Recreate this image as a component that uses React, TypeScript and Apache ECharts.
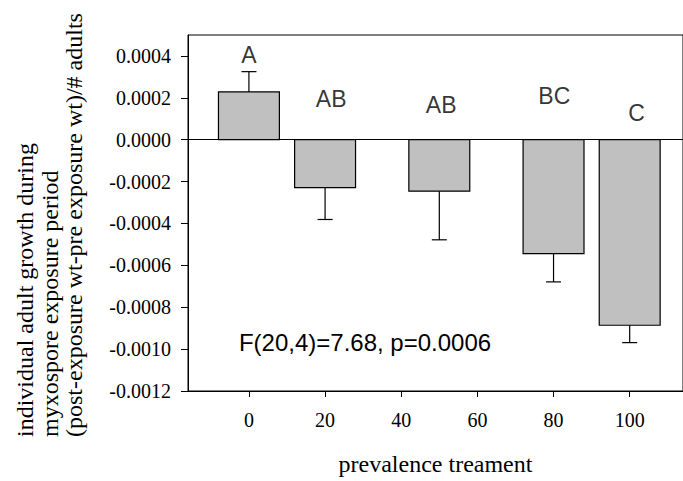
import React, { useEffect, useRef } from "react";
import * as echarts from "echarts";

// Data
const treatments = [0, 20, 50, 80, 100];
const means = [0.000228, -0.000229, -0.000246, -0.000544, -0.000886];
const errors = [0.000097, 0.000152, 0.000232, 0.000135, 0.000083];
const groupLetters = ["A", "AB", "AB", "BC", "C"];
const letterX = [0, 21.6, 50.5, 80.2, 101.8];
const letterY = [0.000405, 0.000196, 0.000168, 0.000211, 0.000127];
const xTicks = [0, 20, 40, 60, 80, 100];
const yTicks = [-0.0012, -0.001, -0.0008, -0.0006, -0.0004, -0.0002, 0, 0.0002, 0.0004];
const statText = "F(20,4)=7.68, p=0.0006";
const yTitleLines = [
  "individual adult growth during",
  "myxospore exposure period",
  "(post-exposure wt-pre exposure wt)/# adults",
];
const xTitle = "prevalence treament";

const SERIF = '"Liberation Serif", "Times New Roman", serif';
const SANS = '"Liberation Sans", Arial, sans-serif';

export default function App() {
  const ref = useRef<HTMLDivElement>(null);

  useEffect(() => {
    if (!ref.current) return;
    const chart = echarts.init(ref.current, null, { renderer: "svg" });
    const barHalf = 8;

    const option: any = {
      animation: false,
      backgroundColor: "#fff",
      grid: {
        left: 188,
        top: 35,
        width: 496,
        height: 362,
        show: true,
        borderColor: "#000",
        borderWidth: 1,
        backgroundColor: "transparent",
      },
      xAxis: {
        type: "value",
        min: -16,
        max: 114,
        name: xTitle,
        nameLocation: "middle",
        nameGap: 73,
        nameTextStyle: {
          fontFamily: SERIF,
          fontSize: 24,
          color: "#000",
          verticalAlign: "middle",
        },
        axisLine: { show: true, onZero: false, lineStyle: { color: "#000", width: 1 } },
        axisTick: {
          show: true,
          length: 6,
          customValues: xTicks,
          lineStyle: { color: "#000", width: 1 },
        },
        axisLabel: {
          customValues: xTicks,
          margin: 19,
          fontFamily: SERIF,
          fontSize: 20,
          color: "#000",
        },
        splitLine: { show: false },
      },
      yAxis: {
        type: "value",
        min: -0.0012,
        max: 0.0005,
        axisLine: { show: true, onZero: false, lineStyle: { color: "#000", width: 1 } },
        axisTick: {
          show: true,
          length: 7,
          customValues: yTicks,
          lineStyle: { color: "#000", width: 1 },
        },
        axisLabel: {
          customValues: yTicks,
          margin: 17,
          fontFamily: SERIF,
          fontSize: 20,
          color: "#000",
          formatter: (v: number) => (Math.abs(v) < 1e-12 ? "0.0000" : v.toFixed(4)),
        },
        splitLine: { show: false },
      },
      series: [
        {
          type: "custom",
          data: treatments.map((t, i) => [t, means[i], errors[i]]),
          renderItem: (params: any, api: any) => {
            const x = api.value(0);
            const m = api.value(1);
            const e = api.value(2);
            const p0 = api.coord([x - barHalf, 0]);
            const p1 = api.coord([x + barHalf, m]);
            const base = api.coord([x, m]);
            const tip = api.coord([x, m + Math.sign(m) * e]);
            const capHalf = 7.5;
            return {
              type: "group",
              children: [
                {
                  type: "rect",
                  shape: {
                    x: p0[0],
                    y: Math.min(p0[1], p1[1]),
                    width: p1[0] - p0[0],
                    height: Math.abs(p1[1] - p0[1]),
                  },
                  style: { fill: "#c0c0c0", stroke: "#000", lineWidth: 1.2 },
                },
                {
                  type: "line",
                  shape: { x1: base[0], y1: base[1], x2: tip[0], y2: tip[1] },
                  style: { stroke: "#000", lineWidth: 1.2 },
                },
                {
                  type: "line",
                  shape: { x1: tip[0] - capHalf, y1: tip[1], x2: tip[0] + capHalf, y2: tip[1] },
                  style: { stroke: "#000", lineWidth: 1.2 },
                },
              ],
            };
          },
          markLine: {
            silent: true,
            symbol: "none",
            label: { show: false },
            lineStyle: { color: "#000", width: 1, type: "solid" },
            data: [{ yAxis: 0 }],
          },
          z: 2,
        },
        {
          type: "scatter",
          data: letterX.map((x, i) => [x, letterY[i], groupLetters[i]]),
          symbolSize: 1,
          itemStyle: { color: "rgba(0,0,0,0)" },
          label: {
            show: true,
            position: "inside",
            formatter: (p: any) => p.value[2],
            fontFamily: SANS,
            fontSize: 23,
            color: "#000",
          },
          z: 3,
        },
      ],
      graphic: [
        ...yTitleLines.map((line, i) => ({
          type: "text",
          x: [25, 50, 74][i],
          y: 437,
          rotation: Math.PI / 2,
          style: {
            text: line,
            font: `24px ${SERIF}`,
            fill: "#000",
            align: "left",
            verticalAlign: "middle",
          },
        })),
        {
          type: "text",
          x: 365,
          y: 342,
          style: {
            text: statText,
            font: `24px ${SANS}`,
            fill: "#000",
            align: "center",
            verticalAlign: "middle",
          },
        },
      ],
    };

    chart.setOption(option);
    return () => chart.dispose();
  }, []);

  return (
    <div
      ref={ref}
      style={{ position: "fixed", left: 0, top: 0, width: 683, height: 481, background: "#fff" }}
    />
  );
}
